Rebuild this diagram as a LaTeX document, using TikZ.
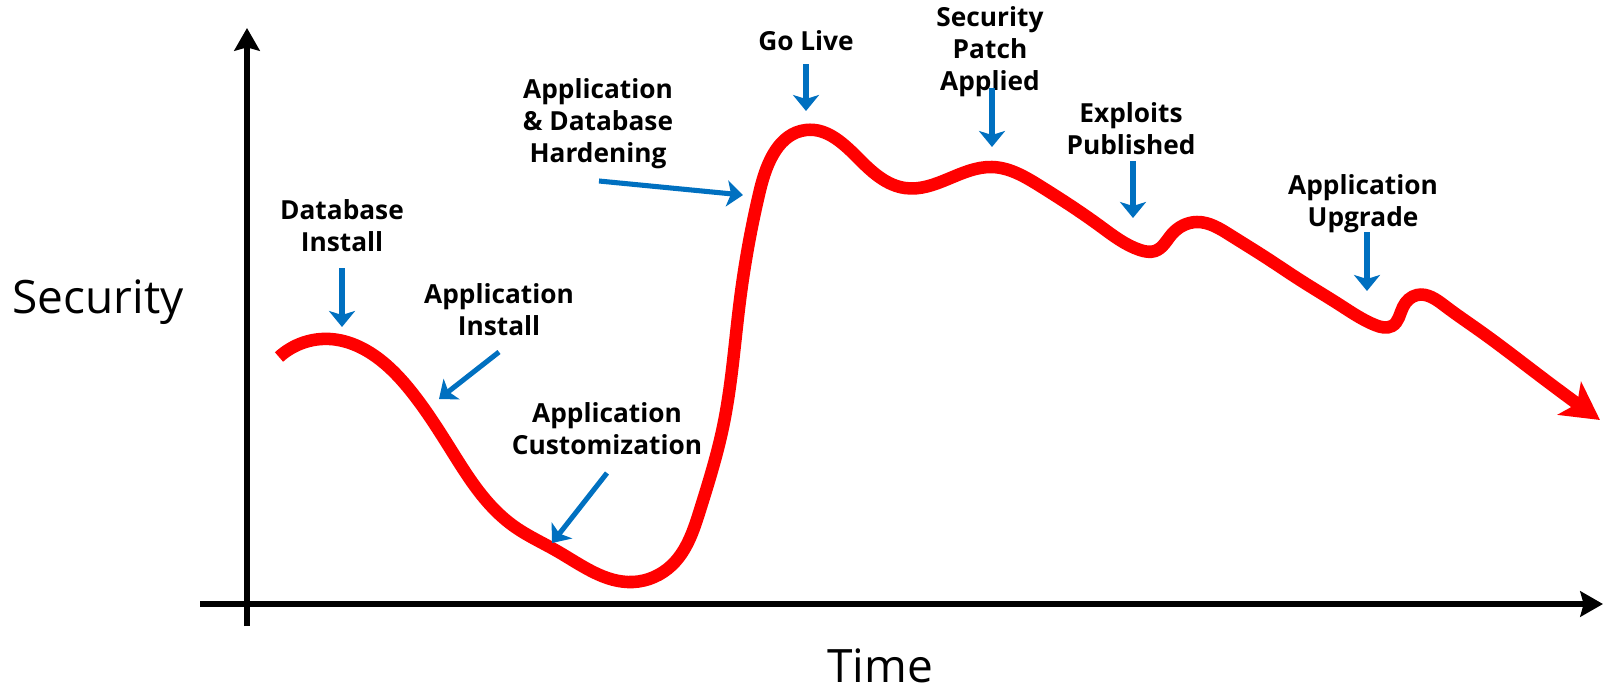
\documentclass[tikz,border=0pt]{standalone}
\usepackage{fontspec}
\setmainfont{Open Sans}
\usetikzlibrary{arrows.meta,hobby}
\definecolor{curvered}{RGB}{255,0,0}
\definecolor{arrowblue}{RGB}{0,112,192}
\begin{document}
\begin{tikzpicture}[x=0.75pt,y=-0.75pt,
  lbl/.style={inner sep=0pt,align=center,font=\fontsize{19.7}{24}\selectfont\bfseries,anchor=base},
  axlbl/.style={inner sep=0pt,font=\fontsize{34.5}{41}\selectfont,anchor=base},
  axis/.style={line width=4.2pt,-{Stealth[length=17pt,width=19pt,inset=2.5pt]}},
  pointer/.style={line width=3.8pt,draw=arrowblue,-{Stealth[length=12pt,width=19.5pt,inset=3pt]}},
  trend/.style={line width=9.4pt,draw=curvered,-{Stealth[length=28pt,width=30pt,inset=7pt]}}]
\useasboundingbox (0,0) rectangle (1604,686);
% axes
\coordinate (o1) at (247,626);
\coordinate (ytop) at (247,28);
\coordinate (o2) at (200,604);
\coordinate (xend) at (1603,604);
\draw[axis] (o1) -- (ytop);
\draw[axis] (o2) -- (xend);
\node[axlbl] (sec) at (98,313) {Security};
\node[axlbl] (time) at (880,682) {Time};
% curve
\draw[trend,use Hobby shortcut]
 (279,357) .. (330,339) .. (375,356) .. (410,390) .. (453,453) .. (493,508)
 .. (515,527) .. (557,551) .. (633,582) .. (672,565) .. (700,510) .. (723,427)
 .. (740,300) .. (760,190) .. (806,130) .. (860,160) .. (905,188) .. (992,167)
 .. (1040,186) .. (1100,226) .. (1140,250) .. (1155,251) .. (1172,234) .. (1197,222)
 .. (1230,235) .. (1265,257) .. (1300,280) .. (1340,305) .. (1375,325) .. (1392,326)
 .. (1403,307) .. (1417,295) .. (1445,306) .. (1480,331) .. (1540,376) .. (1600,420);
% labels
\node[lbl] (dbi) at (342,251) {Database\\Install};
\node[lbl] (api) at (499,335) {Application\\Install};
\node[lbl] (apc) at (607,454) {Application\\Customization};
\node[lbl] (har) at (598,162) {Application\\\& Database\\Hardening};
\node[lbl] (gol) at (806,50) {Go Live};
\node[lbl] (spa) at (990,90) {Security\\Patch\\Applied};
\node[lbl] (exp) at (1131,154) {Exploits\\Published};
\node[lbl] (upg) at (1363,226) {Application\\Upgrade};
% pointer ends
\coordinate (dbiS) at (342,268); \coordinate (dbiE) at (342,327);
\coordinate (apiS) at (499,352); \coordinate (apiE) at (439,399);
\coordinate (apcS) at (607,473); \coordinate (apcE) at (552,543);
\coordinate (harS) at (599,181); \coordinate (harE) at (743,195);
\coordinate (golS) at (806,64);  \coordinate (golE) at (806,111);
\coordinate (spaS) at (992,88);  \coordinate (spaE) at (992,147);
\coordinate (expS) at (1133,161); \coordinate (expE) at (1133,218);
\coordinate (upgS) at (1367,232); \coordinate (upgE) at (1367,291);
\draw[pointer] (dbiS) -- (dbiE);
\draw[pointer] (apiS) -- (apiE);
\draw[pointer] (apcS) -- (apcE);
\draw[pointer] (harS) -- (harE);
\draw[pointer] (golS) -- (golE);
\draw[pointer] (spaS) -- (spaE);
\draw[pointer] (expS) -- (expE);
\draw[pointer] (upgS) -- (upgE);
\end{tikzpicture}
\end{document}
